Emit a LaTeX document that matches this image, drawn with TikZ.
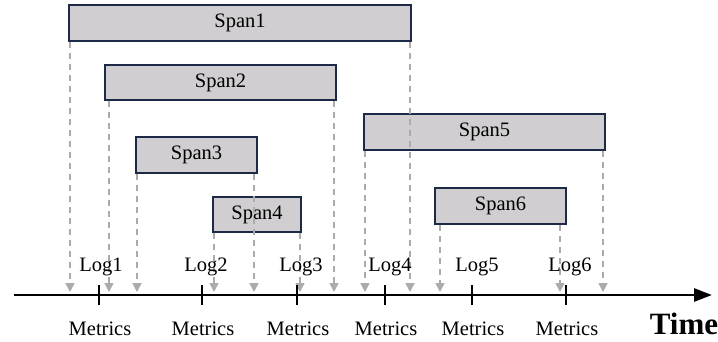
\documentclass[tikz,border=0pt]{standalone}
\usepackage{fontspec}
\setmainfont{Liberation Serif}
\usetikzlibrary{arrows.meta}
\definecolor{spanfill}{HTML}{D0CED0}
\definecolor{spanedge}{HTML}{1C2A48}
\definecolor{dashgray}{HTML}{ABABAB}
\begin{document}
\begin{tikzpicture}[x=1pt,y=-1pt,
  spanbox/.style={draw=spanedge,fill=spanfill,line width=1.5pt,inner sep=0pt,
    font=\fontsize{20.5}{24}\selectfont},
  dline/.style={draw=dashgray,line width=1.5pt,dash pattern=on 6pt off 5pt,
    -{Triangle[length=9pt,width=9pt,fill=dashgray]}},
  lbl/.style={font=\fontsize{20.5}{24}\selectfont,inner sep=0pt},
  tickline/.style={line width=2.8pt}
]
\useasboundingbox (0,0) rectangle (718,341);
% spans
\node[spanbox,minimum width=342pt,minimum height=36pt] (s1) at (240,23) {Span1};
\node[spanbox,minimum width=231pt,minimum height=35pt] (s2) at (220.5,82.5) {Span2};
\node[spanbox,minimum width=121pt,minimum height=36pt] (s3) at (196.5,155) {Span3};
\node[spanbox,minimum width=88pt,minimum height=35pt] (s4) at (257,214.5) {Span4};
\node[spanbox,minimum width=241pt,minimum height=36pt] (s5) at (484.5,132) {Span5};
\node[spanbox,minimum width=131pt,minimum height=36pt] (s6) at (500.5,206) {Span6};
% dashed arrow ends
\coordinate (e1l) at (70,292);  \coordinate (e1r) at (410,292);
\coordinate (e2l) at (109,292); \coordinate (e2r) at (334,292);
\coordinate (e3l) at (137,292); \coordinate (e3r) at (254,292);
\coordinate (e4l) at (214,292); \coordinate (e4r) at (300,292);
\coordinate (e5l) at (365,292); \coordinate (e5r) at (603,292);
\coordinate (e6l) at (440,292); \coordinate (e6r) at (560,292);
\foreach \s in {1,...,6}{
  \draw[dline] (s\s.south -| e\s l) -- (e\s l);
  \draw[dline] (s\s.south -| e\s r) -- (e\s r);
}
% axis
\coordinate (ax0) at (14,295);
\coordinate (ax1) at (712,295);
\draw[line width=2.8pt,-{Triangle[length=18pt,width=13pt]}] (ax0) -- (ax1);
% ticks, logs, metrics
\foreach \i/\x/\lx in {1/99/101,2/202/206,3/297/301,4/385/390,5/472/477,6/566/570}{
  \coordinate (t\i) at (\x,295);
  \draw[tickline] ([yshift=-10pt]t\i) -- ([yshift=10pt]t\i);
  \node[lbl] (l\i) at (\lx,267) {Log\i};
  \node[lbl] (m\i) at (\x+1,329) {Metrics};
}
\node[font=\fontsize{31}{35}\selectfont\bfseries,inner sep=0pt] (time) at (684,324) {Time};
\end{tikzpicture}
\end{document}
